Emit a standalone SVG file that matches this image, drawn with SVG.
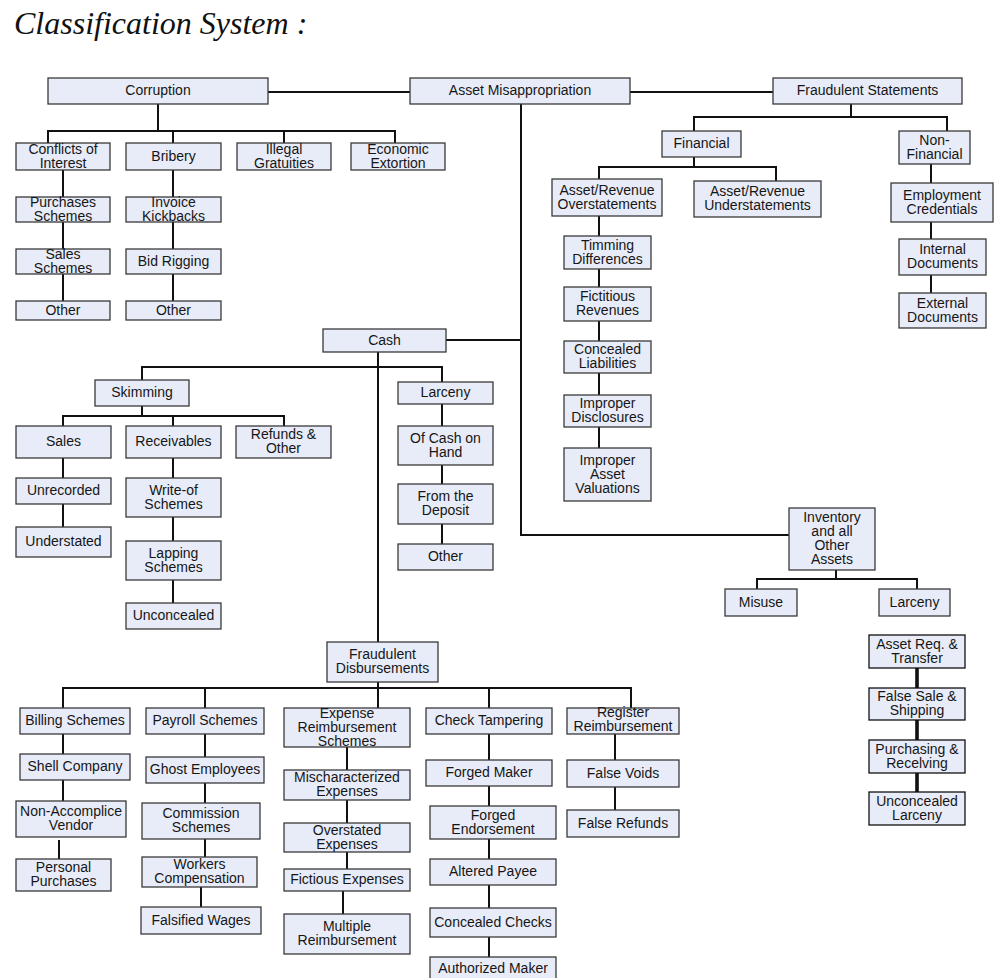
<svg xmlns="http://www.w3.org/2000/svg" width="1000" height="978" viewBox="0 0 1000 978">
  <style>
    .box rect { fill: #e8ecf8; stroke: #3a3a3a; stroke-width: 1.3; }
    .box text { font-family: "Liberation Sans", Arial, sans-serif; font-size: 14px; fill: #161616; text-anchor: middle; }
    .links line, .links polyline { stroke: #111; stroke-width: 2; fill: none; }
    .links .thick { stroke-width: 3.6; }
    .title { font-family: "Liberation Serif", "Times New Roman", serif; font-style: italic; font-size: 32px; fill: #111; }
  </style>

  <rect width="1000" height="978" fill="#ffffff"/>
  <text class="title" x="14" y="34">Classification System :</text>

  <!-- connectors -->
  <g id="connectors" class="links">
    <!-- top row -->
    <line x1="268" y1="92" x2="410" y2="92"/>
    <line x1="630" y1="92" x2="773" y2="92"/>
    <!-- corruption -->
    <line x1="158" y1="104" x2="158" y2="131"/>
    <polyline points="48,143 48,131 395,131 395,143"/>
    <line x1="173" y1="131" x2="173" y2="143"/>
    <line x1="284" y1="131" x2="284" y2="143"/>
    <line x1="63" y1="170" x2="63" y2="197"/>
    <line x1="63" y1="222" x2="63" y2="249"/>
    <line x1="63" y1="274" x2="63" y2="301"/>
    <line x1="173" y1="170" x2="173" y2="197"/>
    <line x1="173" y1="222" x2="173" y2="249"/>
    <line x1="173" y1="274" x2="173" y2="301"/>
    <!-- fraudulent statements -->
    <line x1="851" y1="104" x2="851" y2="117"/>
    <polyline points="694,131 694,117 947,117 947,131"/>
    <line x1="694" y1="157" x2="694" y2="167"/>
    <polyline points="599,179 599,167 776,167 776,181"/>
    <line x1="599" y1="216" x2="599" y2="236"/>
    <line x1="599" y1="269" x2="599" y2="287"/>
    <line x1="599" y1="321" x2="599" y2="341"/>
    <line x1="599" y1="373" x2="599" y2="395"/>
    <line x1="599" y1="427" x2="599" y2="448"/>
    <line x1="931" y1="164" x2="931" y2="183"/>
    <line x1="931" y1="222" x2="931" y2="239"/>
    <line x1="931" y1="275" x2="931" y2="293"/>
    <!-- asset misappropriation -->
    <polyline points="521,104 521,535 789,535"/>
    <line x1="446" y1="340" x2="521" y2="340"/>
    <line x1="378" y1="352" x2="378" y2="642"/>
    <polyline points="142,380 142,367 442,367 442,382"/>
    <line x1="142" y1="406" x2="142" y2="416"/>
    <polyline points="63,426 63,416 284,416 284,426"/>
    <line x1="173" y1="416" x2="173" y2="426"/>
    <line x1="63" y1="458" x2="63" y2="478"/>
    <line x1="63" y1="504" x2="63" y2="527"/>
    <line x1="173" y1="458" x2="173" y2="478"/>
    <line x1="173" y1="517" x2="173" y2="541"/>
    <line x1="173" y1="580" x2="173" y2="603"/>
    <line x1="442" y1="404" x2="442" y2="426"/>
    <line x1="442" y1="465" x2="442" y2="484"/>
    <line x1="442" y1="524" x2="442" y2="544"/>
    <!-- inventory -->
    <line x1="836" y1="570" x2="836" y2="579"/>
    <polyline points="757,589 757,579 917,579 917,589"/>
    <line class="thick" x1="917" y1="668" x2="917" y2="688"/>
    <line class="thick" x1="917" y1="720" x2="917" y2="740"/>
    <line class="thick" x1="917" y1="773" x2="917" y2="792"/>
    <!-- fraudulent disbursements -->
    <line x1="378" y1="682" x2="378" y2="688"/>
    <polyline points="63,708 63,688 631,688 631,708"/>
    <line x1="205" y1="688" x2="205" y2="708"/>
    <line x1="378" y1="688" x2="378" y2="708"/>
    <line x1="489" y1="688" x2="489" y2="708"/>
    <line x1="63" y1="734" x2="63" y2="754"/>
    <line x1="63" y1="780" x2="63" y2="801"/>
    <line x1="59" y1="840" x2="59" y2="859"/>
    <line x1="205" y1="734" x2="205" y2="757"/>
    <line x1="205" y1="783" x2="205" y2="803"/>
    <line x1="205" y1="839" x2="205" y2="857"/>
    <line x1="201" y1="887" x2="201" y2="907"/>
    <line x1="347" y1="747" x2="347" y2="770"/>
    <line x1="347" y1="800" x2="347" y2="823"/>
    <line x1="347" y1="852" x2="347" y2="869"/>
    <line x1="343" y1="891" x2="343" y2="914"/>
    <line x1="489" y1="734" x2="489" y2="760"/>
    <line x1="489" y1="786" x2="489" y2="806"/>
    <line x1="489" y1="839" x2="489" y2="859"/>
    <line x1="489" y1="885" x2="489" y2="908"/>
    <line x1="489" y1="937" x2="489" y2="957"/>
    <line x1="615" y1="734" x2="615" y2="760"/>
    <line x1="615" y1="787" x2="615" y2="810"/>
  </g>

  <!-- top level -->
  <g id="corruption" class="box"><rect x="48" y="78" width="220" height="26"/><text x="158" y="95">Corruption</text></g>
  <g id="asset-misappropriation" class="box"><rect x="410" y="78" width="220" height="26"/><text x="520" y="95">Asset Misappropriation</text></g>
  <g id="fraudulent-statements" class="box"><rect x="773" y="78" width="189" height="26"/><text x="867.5" y="95">Fraudulent Statements</text></g>

  <!-- corruption branch -->
  <g id="conflicts-of-interest" class="box"><rect x="16" y="143" width="94" height="27"/><text><tspan x="63" y="153.5">Conflicts of</tspan><tspan x="63" y="167.5">Interest</tspan></text></g>
  <g id="bribery" class="box"><rect x="126" y="143" width="95" height="27"/><text x="173.5" y="160.5">Bribery</text></g>
  <g id="illegal-gratuities" class="box"><rect x="237" y="143" width="94" height="27"/><text><tspan x="284" y="153.5">Illegal</tspan><tspan x="284" y="167.5">Gratuities</tspan></text></g>
  <g id="economic-extortion" class="box"><rect x="351" y="143" width="94" height="27"/><text><tspan x="398" y="153.5">Economic</tspan><tspan x="398" y="167.5">Extortion</tspan></text></g>
  <g id="purchases-schemes" class="box"><rect x="16" y="197" width="94" height="25"/><text><tspan x="63" y="206.5">Purchases</tspan><tspan x="63" y="220.5">Schemes</tspan></text></g>
  <g id="sales-schemes" class="box"><rect x="16" y="249" width="94" height="25"/><text><tspan x="63" y="258.5">Sales</tspan><tspan x="63" y="272.5">Schemes</tspan></text></g>
  <g id="conflicts-other" class="box"><rect x="16" y="301" width="94" height="19"/><text x="63" y="314.5">Other</text></g>
  <g id="invoice-kickbacks" class="box"><rect x="126" y="197" width="95" height="25"/><text><tspan x="173.5" y="206.5">Invoice</tspan><tspan x="173.5" y="220.5">Kickbacks</tspan></text></g>
  <g id="bid-rigging" class="box"><rect x="126" y="249" width="95" height="25"/><text x="173.5" y="265.5">Bid Rigging</text></g>
  <g id="bribery-other" class="box"><rect x="126" y="301" width="95" height="19"/><text x="173.5" y="314.5">Other</text></g>

  <!-- fraudulent statements branch -->
  <g id="financial" class="box"><rect x="662" y="131" width="79" height="26"/><text x="701.5" y="148">Financial</text></g>
  <g id="non-financial" class="box"><rect x="899" y="131" width="71" height="33"/><text><tspan x="934.5" y="144.5">Non-</tspan><tspan x="934.5" y="158.5">Financial</tspan></text></g>
  <g id="overstatements" class="box"><rect x="552" y="179" width="110" height="37"/><text><tspan x="607" y="194.5">Asset/Revenue</tspan><tspan x="607" y="208.5">Overstatements</tspan></text></g>
  <g id="understatements" class="box"><rect x="694" y="181" width="127" height="36"/><text><tspan x="757.5" y="196">Asset/Revenue</tspan><tspan x="757.5" y="210">Understatements</tspan></text></g>
  <g id="employment-credentials" class="box"><rect x="891" y="183" width="102" height="39"/><text><tspan x="942" y="199.5">Employment</tspan><tspan x="942" y="213.5">Credentials</tspan></text></g>
  <g id="internal-documents" class="box"><rect x="899" y="239" width="87" height="36"/><text><tspan x="942.5" y="254">Internal</tspan><tspan x="942.5" y="268">Documents</tspan></text></g>
  <g id="external-documents" class="box"><rect x="899" y="293" width="87" height="35"/><text><tspan x="942.5" y="307.5">External</tspan><tspan x="942.5" y="321.5">Documents</tspan></text></g>
  <g id="timming-differences" class="box"><rect x="564" y="236" width="87" height="33"/><text><tspan x="607.5" y="249.5">Timming</tspan><tspan x="607.5" y="263.5">Differences</tspan></text></g>
  <g id="fictitious-revenues" class="box"><rect x="564" y="287" width="87" height="34"/><text><tspan x="607.5" y="301">Fictitious</tspan><tspan x="607.5" y="315">Revenues</tspan></text></g>
  <g id="concealed-liabilities" class="box"><rect x="564" y="341" width="87" height="32"/><text><tspan x="607.5" y="354">Concealed</tspan><tspan x="607.5" y="368">Liabilities</tspan></text></g>
  <g id="improper-disclosures" class="box"><rect x="564" y="395" width="87" height="32"/><text><tspan x="607.5" y="408">Improper</tspan><tspan x="607.5" y="422">Disclosures</tspan></text></g>
  <g id="improper-valuations" class="box"><rect x="564" y="448" width="87" height="53"/><text><tspan x="607.5" y="464.5">Improper</tspan><tspan x="607.5" y="478.5">Asset</tspan><tspan x="607.5" y="492.5">Valuations</tspan></text></g>

  <!-- cash branch -->
  <g id="cash" class="box"><rect x="323" y="329" width="123" height="23"/><text x="384.5" y="344.5">Cash</text></g>
  <g id="skimming" class="box"><rect x="95" y="380" width="94" height="26"/><text x="142" y="397">Skimming</text></g>
  <g id="cash-larceny" class="box"><rect x="398" y="382" width="95" height="22"/><text x="445.5" y="397">Larceny</text></g>
  <g id="sales" class="box"><rect x="16" y="426" width="95" height="32"/><text x="63.5" y="446">Sales</text></g>
  <g id="receivables" class="box"><rect x="126" y="426" width="95" height="32"/><text x="173.5" y="446">Receivables</text></g>
  <g id="refunds-other" class="box"><rect x="236" y="426" width="95" height="32"/><text><tspan x="283.5" y="439">Refunds &amp;</tspan><tspan x="283.5" y="453">Other</tspan></text></g>
  <g id="unrecorded" class="box"><rect x="16" y="478" width="95" height="26"/><text x="63.5" y="495">Unrecorded</text></g>
  <g id="understated" class="box"><rect x="16" y="527" width="95" height="30"/><text x="63.5" y="546">Understated</text></g>
  <g id="write-of-schemes" class="box"><rect x="126" y="478" width="95" height="39"/><text><tspan x="173.5" y="494.5">Write-of</tspan><tspan x="173.5" y="508.5">Schemes</tspan></text></g>
  <g id="lapping-schemes" class="box"><rect x="126" y="541" width="95" height="39"/><text><tspan x="173.5" y="557.5">Lapping</tspan><tspan x="173.5" y="571.5">Schemes</tspan></text></g>
  <g id="unconcealed" class="box"><rect x="126" y="603" width="95" height="26"/><text x="173.5" y="620">Unconcealed</text></g>
  <g id="cash-on-hand" class="box"><rect x="398" y="426" width="95" height="39"/><text><tspan x="445.5" y="442.5">Of Cash on</tspan><tspan x="445.5" y="456.5">Hand</tspan></text></g>
  <g id="from-deposit" class="box"><rect x="398" y="484" width="95" height="40"/><text><tspan x="445.5" y="501">From the</tspan><tspan x="445.5" y="515">Deposit</tspan></text></g>
  <g id="larceny-other" class="box"><rect x="398" y="544" width="95" height="26"/><text x="445.5" y="561">Other</text></g>

  <!-- inventory branch -->
  <g id="inventory" class="box"><rect x="789" y="508" width="86" height="62"/><text><tspan x="832" y="522">Inventory</tspan><tspan x="832" y="536">and all</tspan><tspan x="832" y="550">Other</tspan><tspan x="832" y="564">Assets</tspan></text></g>
  <g id="misuse" class="box"><rect x="725" y="589" width="72" height="27"/><text x="761" y="606.5">Misuse</text></g>
  <g id="inventory-larceny" class="box"><rect x="879" y="589" width="71" height="27"/><text x="914.5" y="606.5">Larceny</text></g>
  <g id="asset-requisition" class="box"><rect x="869" y="635" width="96" height="33" style="stroke:#111"/><text><tspan x="917" y="648.5">Asset Req. &amp;</tspan><tspan x="917" y="662.5">Transfer</tspan></text></g>
  <g id="false-sale" class="box"><rect x="869" y="688" width="96" height="32" style="stroke:#111"/><text><tspan x="917" y="701">False Sale &amp;</tspan><tspan x="917" y="715">Shipping</tspan></text></g>
  <g id="purchasing-receiving" class="box"><rect x="869" y="740" width="96" height="33" style="stroke:#111"/><text><tspan x="917" y="753.5">Purchasing &amp;</tspan><tspan x="917" y="767.5">Recelving</tspan></text></g>
  <g id="unconcealed-larceny" class="box"><rect x="869" y="792" width="96" height="33" style="stroke:#111"/><text><tspan x="917" y="805.5">Unconcealed</tspan><tspan x="917" y="819.5">Larceny</tspan></text></g>

  <!-- fraudulent disbursements branch -->
  <g id="fraudulent-disbursements" class="box"><rect x="327" y="642" width="111" height="40"/><text><tspan x="382.5" y="659">Fraudulent</tspan><tspan x="382.5" y="673">Disbursements</tspan></text></g>
  <g id="billing-schemes" class="box"><rect x="20" y="708" width="110" height="26"/><text x="75" y="725">Billing Schemes</text></g>
  <g id="payroll-schemes" class="box"><rect x="146" y="708" width="118" height="26"/><text x="205" y="725">Payroll Schemes</text></g>
  <g id="expense-reimbursement" class="box"><rect x="284" y="708" width="126" height="39"/><text><tspan x="347" y="717.5">Expense</tspan><tspan x="347" y="731.5">Reimbursement</tspan><tspan x="347" y="745.5">Schemes</tspan></text></g>
  <g id="check-tampering" class="box"><rect x="426" y="708" width="126" height="26"/><text x="489" y="725">Check Tampering</text></g>
  <g id="register-reimbursement" class="box"><rect x="567" y="708" width="112" height="26"/><text><tspan x="623" y="717">Register</tspan><tspan x="623" y="731">Reimbursement</tspan></text></g>
  <g id="shell-company" class="box"><rect x="20" y="754" width="110" height="26"/><text x="75" y="771">Shell Company</text></g>
  <g id="non-accomplice-vendor" class="box"><rect x="16" y="801" width="110" height="36"/><text><tspan x="71" y="816">Non-Accomplice</tspan><tspan x="71" y="830">Vendor</tspan></text></g>
  <g id="personal-purchases" class="box"><rect x="16" y="859" width="95" height="32"/><text><tspan x="63.5" y="872">Personal</tspan><tspan x="63.5" y="886">Purchases</tspan></text></g>
  <g id="ghost-employees" class="box"><rect x="146" y="757" width="118" height="26"/><text x="205" y="774">Ghost Employees</text></g>
  <g id="commission-schemes" class="box"><rect x="142" y="803" width="118" height="36"/><text><tspan x="201" y="818">Commission</tspan><tspan x="201" y="832">Schemes</tspan></text></g>
  <g id="workers-compensation" class="box"><rect x="142" y="857" width="115" height="30"/><text><tspan x="199.5" y="869">Workers</tspan><tspan x="199.5" y="883">Compensation</tspan></text></g>
  <g id="falsified-wages" class="box"><rect x="141" y="907" width="120" height="27"/><text x="201" y="924.5">Falsified Wages</text></g>
  <g id="mischaracterized-expenses" class="box"><rect x="284" y="770" width="126" height="30"/><text><tspan x="347" y="782">Mischaracterized</tspan><tspan x="347" y="796">Expenses</tspan></text></g>
  <g id="overstated-expenses" class="box"><rect x="284" y="823" width="126" height="29"/><text><tspan x="347" y="834.5">Overstated</tspan><tspan x="347" y="848.5">Expenses</tspan></text></g>
  <g id="fictious-expenses" class="box"><rect x="284" y="869" width="126" height="22"/><text x="347" y="884">Fictious Expenses</text></g>
  <g id="multiple-reimbursement" class="box"><rect x="284" y="914" width="126" height="40"/><text><tspan x="347" y="931">Multiple</tspan><tspan x="347" y="945">Reimbursement</tspan></text></g>
  <g id="forged-maker" class="box"><rect x="426" y="760" width="126" height="26"/><text x="489" y="777">Forged Maker</text></g>
  <g id="forged-endorsement" class="box"><rect x="430" y="806" width="126" height="33"/><text><tspan x="493" y="819.5">Forged</tspan><tspan x="493" y="833.5">Endorsement</tspan></text></g>
  <g id="altered-payee" class="box"><rect x="430" y="859" width="126" height="26"/><text x="493" y="876">Altered Payee</text></g>
  <g id="concealed-checks" class="box"><rect x="430" y="908" width="126" height="29"/><text x="493" y="926.5">Concealed Checks</text></g>
  <g id="authorized-maker" class="box"><rect x="430" y="957" width="126" height="26"/><text x="493" y="973">Authorized Maker</text></g>
  <g id="false-voids" class="box"><rect x="567" y="760" width="112" height="27"/><text x="623" y="777.5">False Voids</text></g>
  <g id="false-refunds" class="box"><rect x="567" y="810" width="112" height="27"/><text x="623" y="827.5">False Refunds</text></g>
</svg>
